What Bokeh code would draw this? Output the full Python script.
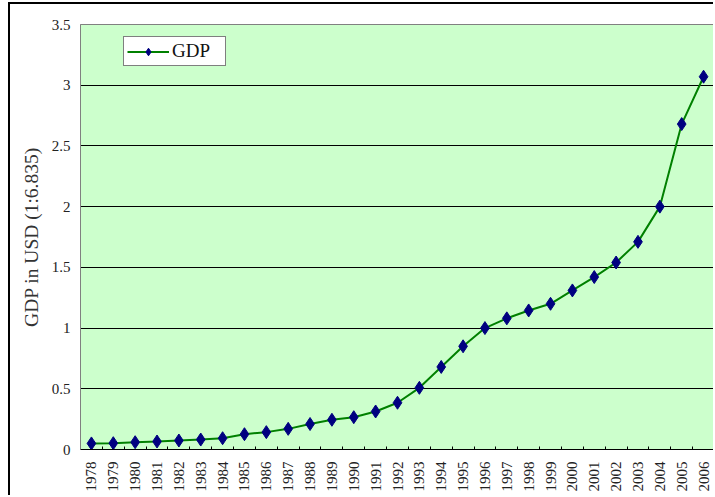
import math
from bokeh.plotting import figure
from bokeh.models import Range1d, FixedTicker, Legend, LegendItem
from bokeh.embed import file_html
from bokeh.resources import INLINE

years = list(range(1978, 2007))
gdp = [0.05, 0.052, 0.06, 0.066, 0.074, 0.082, 0.093, 0.126, 0.143, 0.17,
       0.21, 0.245, 0.266, 0.313, 0.385, 0.508, 0.68, 0.85, 1.0, 1.08,
       1.145, 1.2, 1.31, 1.42, 1.54, 1.71, 2.0, 2.68, 3.07]
y_ticks = [0, 0.5, 1, 1.5, 2, 2.5, 3, 3.5]
y_labels = ["0", "0.5", "1", "1.5", "2", "2.5", "3", "3.5"]
series_name = "GDP"
y_title = "GDP in USD (1:6.835)"

FONT = "Liberation Serif"

p = figure(width=705, height=493, output_backend="svg", toolbar_location=None,
           x_range=Range1d(years[0] - 0.5, years[-1] + 0.5),
           y_range=Range1d(0, 3.5),
           min_border_left=70, min_border_top=20, min_border_bottom=48,
           min_border_right=1)
p.margin = (2, 0, 0, 8)
p.styles = {"border-left": "2px solid black", "border-top": "2px solid black"}

p.background_fill_color = "#CCFFCC"
p.border_fill_color = "white"
p.outline_line_color = "#808080"
p.outline_line_width = 1

# x axis
p.xaxis.ticker = FixedTicker(ticks=years,
                             minor_ticks=[y + 0.5 for y in years[:-1]])
p.xaxis.major_label_overrides = {y: str(y) for y in years}
p.xaxis.major_label_orientation = math.pi / 2
p.xaxis.major_label_text_font = FONT
p.xaxis.major_label_text_font_size = "15px"
p.xaxis.major_label_text_color = "#222222"
p.xaxis.major_label_standoff = 12
p.xaxis.major_tick_in = 0
p.xaxis.major_tick_out = 0
p.xaxis.minor_tick_in = 3
p.xaxis.minor_tick_out = 0
p.xaxis.minor_tick_line_color = "black"
p.xaxis.axis_line_color = "black"
p.xaxis.axis_line_width = 1

# y axis
p.yaxis.ticker = FixedTicker(ticks=y_ticks, minor_ticks=[])
p.yaxis.major_label_overrides = {t: l for t, l in zip(y_ticks, y_labels)}
p.yaxis.major_label_text_font = FONT
p.yaxis.major_label_text_font_size = "15px"
p.yaxis.major_label_text_color = "#222222"
p.yaxis.major_label_standoff = 10
p.yaxis.major_tick_in = 0
p.yaxis.major_tick_out = 0
p.yaxis.axis_line_color = "#808080"
p.yaxis.axis_label = y_title
p.yaxis.axis_label_text_font = FONT
p.yaxis.axis_label_text_font_size = "19.5px"
p.yaxis.axis_label_text_font_style = "normal"
p.yaxis.axis_label_text_color = "#333333"
p.yaxis.axis_label_standoff = 7

p.xgrid.grid_line_color = None
p.ygrid.ticker = FixedTicker(ticks=y_ticks[1:-1])
p.ygrid.grid_line_color = "black"
p.ygrid.grid_line_width = 1

ln = p.line(years, gdp, line_color="#008000", line_width=2)
sc = p.scatter(years, gdp, marker="diamond", size=13,
               fill_color="#000080", line_color="#000080")

legend = Legend(items=[LegendItem(label=series_name, renderers=[ln, sc])],
                location=(43, 383))
legend.label_text_font = FONT
legend.label_text_font_size = "19px"
legend.label_text_color = "#111111"
legend.border_line_color = "black"
legend.border_line_width = 1
legend.background_fill_color = "white"
legend.background_fill_alpha = 1
legend.glyph_width = 42
legend.label_standoff = 3
legend.label_width = 50
legend.padding = 3
legend.margin = 0
legend.label_height = 19
legend.glyph_height = 19
p.add_layout(legend, "center")

open("out.html", "w").write(file_html(p, INLINE))
